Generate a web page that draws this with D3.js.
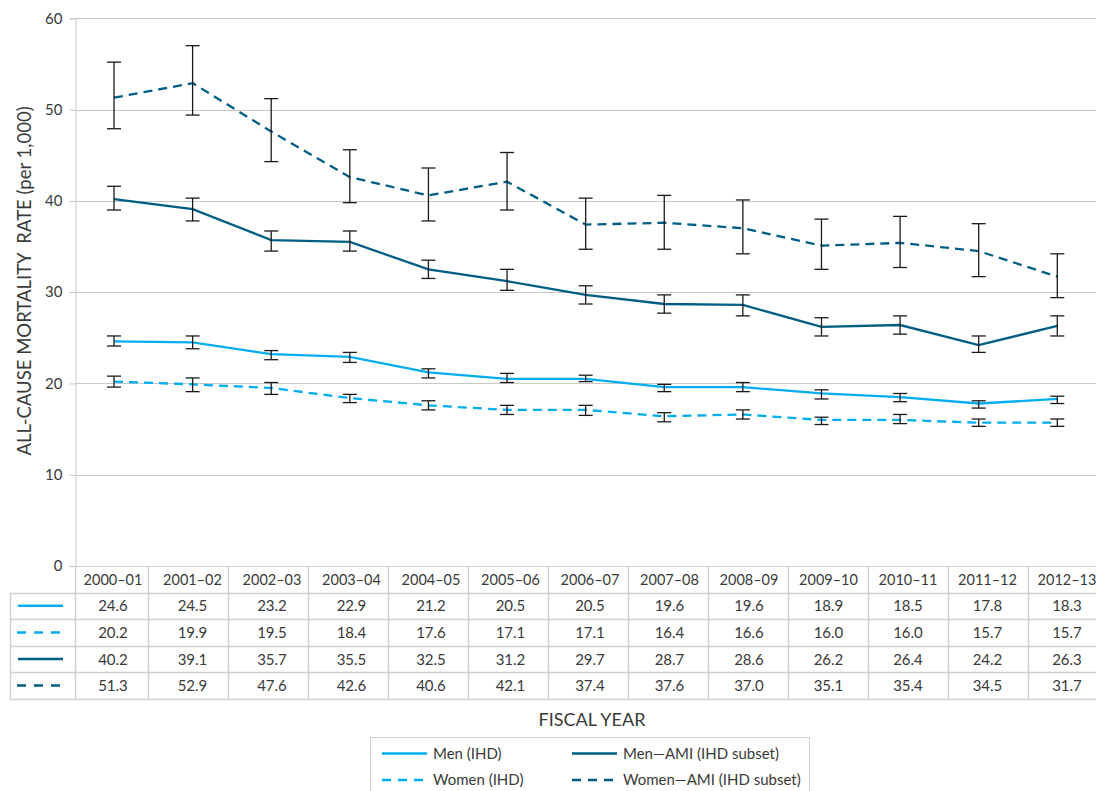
<!DOCTYPE html>
<html>
<head>
<meta charset="utf-8">
<script src="https://cdn.jsdelivr.net/npm/d3@7"></script>
<style>
  html, body { margin: 0; padding: 0; background: #ffffff; }
  svg { display: block; }
  text { font-family: Lato, "Open Sans", sans-serif; fill: #3a3a3a; }
</style>
</head>
<body>
<svg id="chart" width="1096" height="791"></svg>
<script>
const categories = ["2000–01","2001–02","2002–03","2003–04","2004–05","2005–06","2006–07","2007–08","2008–09","2009–10","2010–11","2011–12","2012–13"];
const yTicks = [0, 10, 20, 30, 40, 50, 60];

const menIHD   = [24.6, 24.5, 23.2, 22.9, 21.2, 20.5, 20.5, 19.6, 19.6, 18.9, 18.5, 17.8, 18.3];
const womenIHD = [20.2, 19.9, 19.5, 18.4, 17.6, 17.1, 17.1, 16.4, 16.6, 16.0, 16.0, 15.7, 15.7];
const menAMI   = [40.2, 39.1, 35.7, 35.5, 32.5, 31.2, 29.7, 28.7, 28.6, 26.2, 26.4, 24.2, 26.3];
const womenAMI = [51.3, 52.9, 47.6, 42.6, 40.6, 42.1, 37.4, 37.6, 37.0, 35.1, 35.4, 34.5, 31.7];

const menIHDLow    = [24.1, 23.8, 22.6, 22.3, 20.6, 20.1, 20.2, 19.1, 19.1, 18.3, 18.0, 17.3, 17.8];
const menIHDHigh   = [25.2, 25.2, 23.6, 23.4, 21.6, 21.1, 20.9, 19.9, 20.1, 19.3, 18.9, 18.1, 18.6];
const womenIHDLow  = [19.6, 19.1, 18.8, 17.9, 17.1, 16.6, 16.5, 15.8, 16.1, 15.5, 15.6, 15.3, 15.3];
const womenIHDHigh = [20.8, 20.6, 20.1, 18.8, 18.1, 17.6, 17.6, 16.8, 17.1, 16.3, 16.6, 16.1, 16.1];
const menAMILow    = [39.0, 37.8, 34.5, 34.5, 31.5, 30.2, 28.7, 27.7, 27.4, 25.2, 25.4, 23.4, 25.2];
const menAMIHigh   = [41.6, 40.3, 36.7, 36.7, 33.5, 32.5, 30.7, 29.7, 29.7, 27.2, 27.4, 25.2, 27.4];
const womenAMILow  = [47.9, 49.4, 44.3, 39.8, 37.8, 39.0, 34.7, 34.7, 34.2, 32.5, 32.7, 31.7, 29.4];
const womenAMIHigh = [55.2, 57.0, 51.2, 45.6, 43.6, 45.3, 40.3, 40.6, 40.1, 38.0, 38.3, 37.5, 34.2];

const seriesNames = ["Men (IHD)", "Women (IHD)", "Men—AMI (IHD subset)", "Women—AMI (IHD subset)"];

const LIGHT = "#00aeef", DARK = "#005e85";
const series = [
  {name: seriesNames[0], values: menIHD,   low: menIHDLow,   high: menIHDHigh,   color: LIGHT, dash: null},
  {name: seriesNames[1], values: womenIHD, low: womenIHDLow, high: womenIHDHigh, color: LIGHT, dash: "9,6"},
  {name: seriesNames[2], values: menAMI,   low: menAMILow,   high: menAMIHigh,   color: DARK,  dash: null},
  {name: seriesNames[3], values: womenAMI, low: womenAMILow, high: womenAMIHigh, color: DARK,  dash: "9,6"}
];

const svg = d3.select("#chart");
const axisX = 75.5;
const y = d3.scaleLinear().domain([0, 60]).range([566, 18.3]);
const x = d3.scalePoint().domain(categories).range([114, 1057.3]);

const gridColor = "#c8c8c8";
const tableColor = "#d0d0d0";

// gridlines
svg.append("g").selectAll("line").data(yTicks.filter(d => d > 0)).join("line")
  .attr("x1", axisX).attr("x2", 1096)
  .attr("y1", d => Math.round(y(d)) + 0.5).attr("y2", d => Math.round(y(d)) + 0.5)
  .attr("stroke", gridColor).attr("stroke-width", 1);

// y axis
const yAxis = d3.axisLeft(y).tickValues(yTicks).tickSize(6).tickPadding(7).tickFormat(d3.format("d"));
const gy = svg.append("g").attr("transform", `translate(${axisX},0)`).call(yAxis);
gy.select(".domain").attr("stroke", gridColor);
gy.selectAll(".tick line").attr("stroke", gridColor);
gy.selectAll(".tick text").style("font-size", "15px").style("font-family", "Lato, sans-serif").attr("fill", "#3a3a3a");

// y title
svg.append("text")
  .attr("transform", `translate(31,281) rotate(-90)`)
  .attr("text-anchor", "middle")
  .style("font-size", "18.5px")
  .style("white-space", "pre")
  .text("ALL-CAUSE MORTALITY  RATE (per 1,000)");

// lines
const line = d3.line().x((d, i) => x(categories[i])).y(d => y(d));
series.forEach(s => {
  svg.append("path").datum(s.values)
    .attr("d", line)
    .attr("fill", "none")
    .attr("stroke", s.color)
    .attr("stroke-width", 2.3)
    .attr("stroke-dasharray", s.dash);
});

// error bars
series.forEach(s => {
  const g = svg.append("g").attr("stroke", "#1a1a1a").attr("stroke-width", 1.3);
  categories.forEach((c, i) => {
    const cx = x(c);
    g.append("line").attr("x1", cx).attr("x2", cx).attr("y1", y(s.low[i])).attr("y2", y(s.high[i]));
    g.append("line").attr("x1", cx - 7).attr("x2", cx + 7).attr("y1", y(s.low[i])).attr("y2", y(s.low[i]));
    g.append("line").attr("x1", cx - 7).attr("x2", cx + 7).attr("y1", y(s.high[i])).attr("y2", y(s.high[i]));
  });
});

// data table
const colX = d3.scaleBand().domain(categories).range([67.65, 67.65 + 80.05 * categories.length]);
const txtX = d3.scalePoint().domain(categories).range([113, 1067]);
const rowTop = 566, headerH = 26.5, rowH = 26.6;
const tbl = svg.append("g");
tbl.append("line").attr("x1", axisX).attr("x2", 1096).attr("y1", rowTop + 0.5).attr("y2", rowTop + 0.5).attr("stroke", tableColor);
const tableBottom = rowTop + headerH + rowH * series.length;
d3.range(series.length + 1).forEach(r => {
  const yy = Math.round(rowTop + headerH + rowH * r) + 0.5;
  tbl.append("line").attr("x1", 10).attr("x2", 1096).attr("y1", yy).attr("y2", yy).attr("stroke", tableColor).attr("stroke-width", 1.5);
});
categories.forEach(c => {
  const xx = Math.round(colX(c) + colX.bandwidth()) + 0.5;
  tbl.append("line").attr("x1", xx).attr("x2", xx).attr("y1", rowTop).attr("y2", tableBottom).attr("stroke", tableColor).attr("stroke-width", 1.5);
});
tbl.append("line").attr("x1", axisX).attr("x2", axisX).attr("y1", rowTop).attr("y2", tableBottom).attr("stroke", tableColor).attr("stroke-width", 1.5);
tbl.append("line").attr("x1", 10.5).attr("x2", 10.5).attr("y1", rowTop + headerH).attr("y2", tableBottom).attr("stroke", tableColor).attr("stroke-width", 1.5);

tbl.selectAll("text.hdr").data(categories).join("text")
  .attr("class", "hdr")
  .attr("x", d => txtX(d))
  .attr("y", rowTop + 19)
  .attr("text-anchor", "middle")
  .style("font-size", "14.5px")
  .text(d => d);

series.forEach((s, r) => {
  const cy = rowTop + headerH + rowH * r + rowH / 2;
  tbl.append("line")
    .attr("x1", s.dash ? 17 : 18).attr("x2", s.dash ? 60 : 63)
    .attr("y1", cy).attr("y2", cy)
    .attr("stroke", s.color).attr("stroke-width", 2.5)
    .attr("stroke-dasharray", s.dash ? "9,8" : null);
  tbl.selectAll(null).data(s.values).join("text")
    .attr("x", (d, i) => txtX(categories[i]))
    .attr("y", cy + 5.5)
    .attr("text-anchor", "middle")
    .style("font-size", "15px")
    .text(d => d.toFixed(1));
});

// x title
svg.append("text")
  .attr("x", 592).attr("y", 726)
  .attr("text-anchor", "middle")
  .style("font-size", "18px")
  .text("FISCAL YEAR");

// legend
const lg = svg.append("g");
lg.append("rect").attr("x", 370.5).attr("y", 737.5).attr("width", 439).attr("height", 70)
  .attr("fill", "none").attr("stroke", tableColor).attr("stroke-width", 1);
const legendPos = [
  {x: 382, y: 753.5}, {x: 382, y: 780}, {x: 572, y: 753.5}, {x: 572, y: 780}
];
series.forEach((s, i) => {
  const p = legendPos[i];
  lg.append("line").attr("x1", p.x).attr("x2", p.x + 45).attr("y1", p.y).attr("y2", p.y)
    .attr("stroke", s.color).attr("stroke-width", 2.5)
    .attr("stroke-dasharray", s.dash ? "9,7" : null);
  lg.append("text").attr("x", p.x + 51).attr("y", p.y + 5)
    .style("font-size", "15px")
    .text(s.name);
});
</script>
</body>
</html>
